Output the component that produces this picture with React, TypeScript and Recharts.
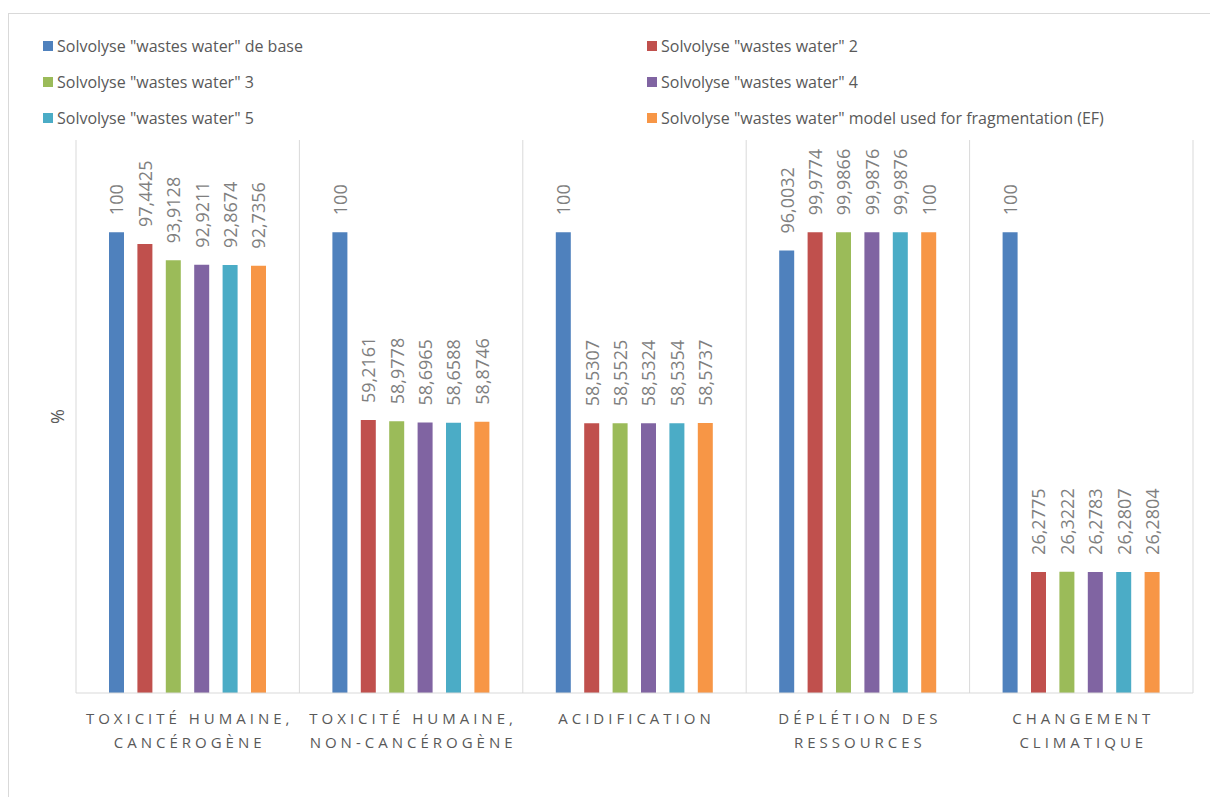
import React from "react";
import { BarChart, Bar, XAxis, YAxis, CartesianGrid, LabelList } from "recharts";

const categories = [
  "Toxicité humaine,\ncancérogène",
  "Toxicité humaine,\nnon-cancérogène",
  "Acidification",
  "Déplétion des\nressources",
  "Changement\nclimatique",
];

const seriesNames = [
  'Solvolyse "wastes water" de base',
  'Solvolyse "wastes water" 2',
  'Solvolyse "wastes water" 3',
  'Solvolyse "wastes water" 4',
  'Solvolyse "wastes water" 5',
  'Solvolyse "wastes water" model used for fragmentation (EF)',
];

const base = [100, 100, 100, 96.0032, 100];
const ww2 = [97.4425, 59.2161, 58.5307, 99.9774, 26.2775];
const ww3 = [93.9128, 58.9778, 58.5525, 99.9866, 26.3222];
const ww4 = [92.9211, 58.6965, 58.5324, 99.9876, 26.2783];
const ww5 = [92.8674, 58.6588, 58.5354, 99.9876, 26.2807];
const wwEF = [92.7356, 58.8746, 58.5737, 100, 26.2804];

const seriesValues = [base, ww2, ww3, ww4, ww5, wwEF];
const colors = ["#4F81BD", "#C0504D", "#9BBB59", "#8064A2", "#4BACC6", "#F79646"];

const data = categories.map((name, i) => {
  const row: Record<string, string | number> = { name };
  seriesValues.forEach((vals, s) => {
    row["s" + s] = vals[i];
  });
  return row;
});

const FONT = "'Open Sans', sans-serif";

const ValueLabel = (props: any) => {
  const { x, y, width, value } = props;
  const cx = x + width / 2;
  const ty = y - 17;
  return (
    <text
      x={cx}
      y={ty}
      transform={`rotate(-90, ${cx}, ${ty})`}
      textAnchor="start"
      dominantBaseline="central"
      fontSize={18}
      fill="#7f7f7f"
      fontFamily={FONT}
    >
      {String(value).replace(".", ",")}
    </text>
  );
};

const CategoryTick = (props: any) => {
  const { x, y, payload } = props;
  const lines = String(payload.value).toUpperCase().split("\n");
  return (
    <text
      x={x}
      y={y}
      textAnchor="middle"
      fontSize={15}
      fill="#595959"
      fontFamily={FONT}
      letterSpacing={4}
    >
      {lines.map((l, i) => (
        <tspan key={i} x={x + 2} dy={i === 0 ? 23 : 24}>
          {l}
        </tspan>
      ))}
    </text>
  );
};

export default function App() {
  return (
    <div style={{ position: "relative", width: 1210, height: 797, overflow: "hidden", fontFamily: FONT }}>
      <style>{`body{margin:0;overflow:hidden}`}</style>
      <div
        style={{
          position: "absolute",
          left: 8,
          top: 13,
          width: 1400,
          height: 1000,
          border: "1px solid #d9d9d9",
        }}
      />
      <div
        style={{
          position: "absolute",
          left: 43,
          top: 28,
          display: "grid",
          gridTemplateColumns: "604px 560px",
          gridAutoRows: "36px",
          color: "#595959",
          fontSize: 16,
        }}
      >
        {seriesNames.map((n, i) => (
          <div key={n} style={{ display: "flex", alignItems: "center", whiteSpace: "nowrap" }}>
            <span style={{ width: 10, height: 10, background: colors[i], marginRight: 4, display: "inline-block" }} />
            {n}
          </div>
        ))}
      </div>
      <div style={{ position: "absolute", left: 0, top: 0 }}>
        <BarChart
          width={1210}
          height={797}
          data={data}
          margin={{ top: 140, right: 17, bottom: 24, left: 36 }}
          barSize={15}
          barGap={13.4}
        >
          <CartesianGrid
            horizontal={false}
            stroke="#d9d9d9"
            verticalCoordinatesGenerator={({ offset }: any) =>
              categories
                .concat([""])
                .map((_, i) => offset.left + (offset.width * i) / categories.length)
            }
          />
          <XAxis
            dataKey="name"
            axisLine={{ stroke: "#d9d9d9" }}
            tickLine={false}
            height={80}
            interval={0}
            tick={<CategoryTick />}
          />
          <YAxis
            domain={[0, 120]}
            tick={false}
            axisLine={false}
            tickLine={false}
            width={40}
            label={{
              value: "%",
              angle: -90,
              position: "center",
              dx: 2,
              fill: "#595959",
              fontSize: 18,
              fontFamily: FONT,
            }}
          />
          {seriesNames.map((n, s) => (
            <Bar key={n} dataKey={"s" + s} name={n} fill={colors[s]} isAnimationActive={false}>
              <LabelList dataKey={"s" + s} content={<ValueLabel />} />
            </Bar>
          ))}
        </BarChart>
      </div>
    </div>
  );
}
